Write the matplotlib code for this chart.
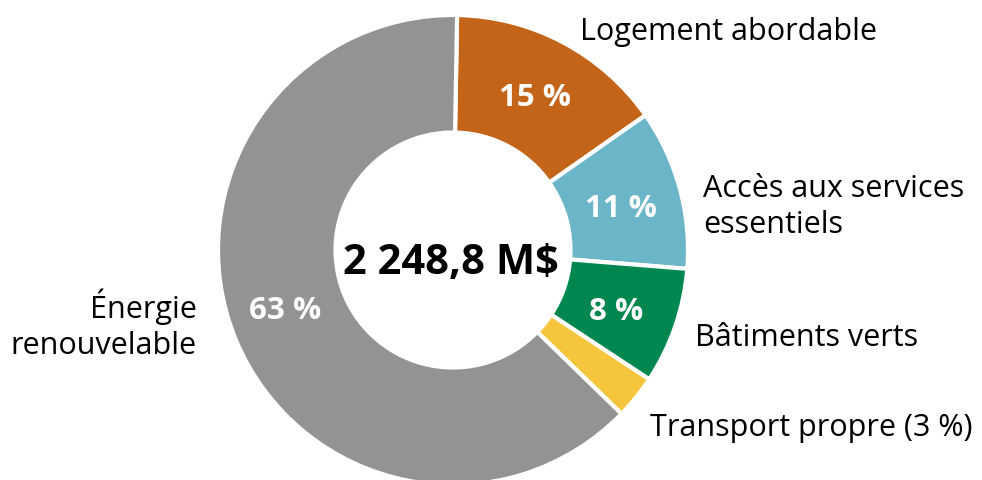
import matplotlib
matplotlib.use("Agg")
import matplotlib.pyplot as plt

# Répartition du financement (en % du total)
categories = ["Logement abordable", "Accès aux services\nessentiels", "Bâtiments verts",
              "Transport propre (3 %)", "Énergie\nrenouvelable"]
shares = [15, 11, 8, 3, 63]
pct_labels = ["15 %", "11 %", "8 %", "", "63 %"]
total_label = "2 248,8 M$"
colors = ["#C46418", "#6BB5C8", "#00874F", "#F5C63C", "#939393"]

plt.rcParams["font.family"] = ["Open Sans", "DejaVu Sans"]

W, H = 982, 480
fig = plt.figure(figsize=(W / 100, H / 100), dpi=100)
ax = fig.add_axes([0, 0, 1, 1])

cx, cy, R = 453, H - 250, 235
wedges, _ = ax.pie(shares, colors=colors, startangle=89, counterclock=False,
                   center=(cx, cy), radius=R, frame=True,
                   wedgeprops=dict(width=R * 0.5, edgecolor="white", linewidth=3))
ax.set_xlim(0, W)
ax.set_ylim(0, H)
ax.set_aspect("equal")
ax.axis("off")

# Percent labels inside the ring (x centre, baseline y in pixels from top)
pct_pos = [(535, 106), (621, 217), (616, 320), None, (285, 319)]
for lab, pos in zip(pct_labels, pct_pos):
    if lab and pos:
        ax.text(pos[0], H - pos[1], lab, ha="center", va="baseline",
                fontsize=22.5, fontweight="bold", color="white")

# Category labels around the ring, one text per line
line_gap = 36
cat_pos = [(580, 40, "left"), (703, 197, "left"), (695, 346, "left"),
           (650, 436, "left"), (197, 318, "right")]
for lab, (x, y, ha) in zip(categories, cat_pos):
    for i, line in enumerate(lab.split("\n")):
        ax.text(x, H - (y + i * line_gap), line, ha=ha, va="baseline",
                fontsize=22, color="black")

ax.text(451, H - 274, total_label, ha="center", va="baseline",
        fontsize=30, fontweight="bold", color="black")

fig.savefig("out.png", dpi=100)
